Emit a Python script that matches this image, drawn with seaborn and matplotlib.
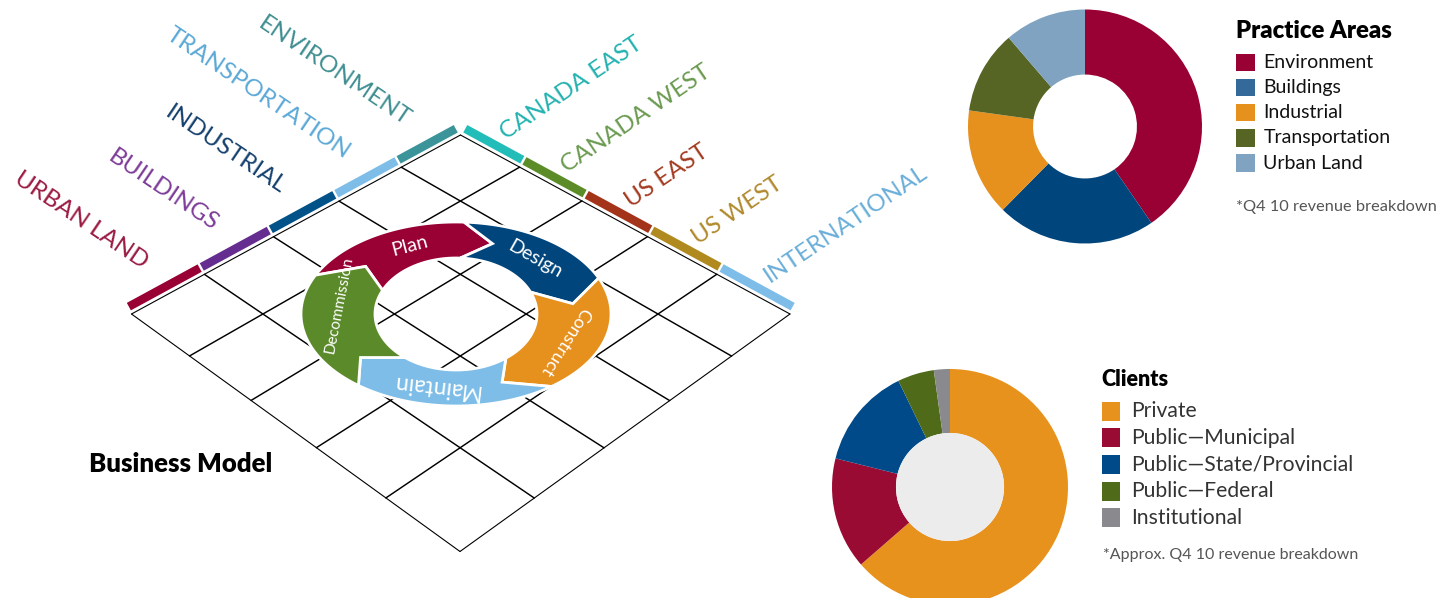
import numpy as np
import matplotlib
matplotlib.use("Agg")
import matplotlib.pyplot as plt
import seaborn as sns
from matplotlib.patches import Polygon, Rectangle, Circle

sns.set_theme(style="white")
plt.rcParams['font.family'] = ['Lato', 'DejaVu Sans']

# ---------------- data ----------------
practice_areas = ["Environment", "Buildings", "Industrial", "Transportation", "Urban Land"]
practice_share = [40.4, 22.0, 14.8, 11.5, 11.3]
practice_colors = ["#990033", "#00457c", "#e6901e", "#566424", "#7fa3c1"]
practice_legend_colors = ["#990033", "#346a99", "#e6901e", "#566424", "#7fa3c1"]

client_types = ["Private", "Public\u2014Municipal", "Public\u2014State/Provincial",
                "Public\u2014Federal", "Institutional"]
client_share = [63.6, 15.3, 13.9, 5.0, 2.2]
client_colors = ["#e8921e", "#9a0b33", "#004a8a", "#4f6b1a", "#8a8a8e"]

grid_practice_labels = ["URBAN LAND", "BUILDINGS", "INDUSTRIAL", "TRANSPORTATION", "ENVIRONMENT"]
grid_practice_text_colors = ["#9b1b42", "#7d3c98", "#14406e", "#5ba8d6", "#3f8e91"]
grid_practice_band_colors = ["#990033", "#662d91", "#005288", "#7dbde8", "#3b9499"]

grid_region_labels = ["CANADA EAST", "CANADA WEST", "US EAST", "US WEST", "INTERNATIONAL"]
grid_region_text_colors = ["#22b2b0", "#6b9a50", "#a33a1f", "#b08a2e", "#6aaed8"]
grid_region_band_colors = ["#22bdb8", "#5b8c28", "#a3341a", "#b08a1f", "#7dbde8"]

cycle_stages = ["Plan", "Design", "Construct", "Maintain", "Decommission"]
cycle_colors = ["#990033", "#00457c", "#e6901e", "#7dbde8", "#5b8a2a"]

# ---------------- layout ----------------
W, H = 1455, 598
fig = plt.figure(figsize=(W / 100, H / 100), dpi=100)
ax = fig.add_axes([0, 0, 1, 1])
ax.set_xlim(0, W)
ax.set_ylim(H, 0)
ax.axis("off")

# perspective grid (homography from unit square)
quad = np.array([[131.5, 314.0], [460.5, 135.0], [790.0, 314.0], [460.0, 551.5]])
unit = np.array([[0, 0], [1, 0], [1, 1], [0, 1]], dtype=float)
A, b = [], []
for (x, y), (X, Y) in zip(unit, quad):
    A.append([x, y, 1, 0, 0, 0, -X * x, -X * y]); b.append(X)
    A.append([0, 0, 0, x, y, 1, -Y * x, -Y * y]); b.append(Y)
hv = np.linalg.solve(np.array(A), np.array(b))
Hm = np.append(hv, 1.0).reshape(3, 3)


def proj(u, v):
    p = Hm @ np.array([u, v, 1.0])
    return p[:2] / p[2]


n_cells = len(grid_practice_labels)
for k in range(n_cells + 1):
    f = k / n_cells
    lw = 0.8 if k in (0, n_cells) else 1.05
    a1, a2 = proj(f, 0), proj(f, 1)
    ax.plot([a1[0], a2[0]], [a1[1], a2[1]], color="black", lw=lw, zorder=2)
    b1, b2 = proj(0, f), proj(1, f)
    ax.plot([b1[0], b2[0]], [b1[1], b2[1]], color="black", lw=lw, zorder=2)


def band(p0, p1, color, gap=1.2, off1=3.5, off2=12.0):
    t = (p1 - p0) / np.linalg.norm(p1 - p0)
    n = np.array([t[1], -t[0]])
    q0, q1 = p0 + t * gap, p1 - t * gap
    pts = [q0 + n * off1, q1 + n * off1, q1 + n * off2, q0 + n * off2]
    ax.add_patch(Polygon(pts, closed=True, facecolor=color, edgecolor="none", zorder=3))
    return (p0 + p1) / 2, t, n


for i, (lab, tc, bc) in enumerate(zip(grid_practice_labels, grid_practice_text_colors,
                                       grid_practice_band_colors)):
    p0, p1 = proj(i / n_cells, 0), proj((i + 1) / n_cells, 0)
    mid, t, n = band(p0, p1, bc)
    pos = mid + n * 34 - t * 11
    ax.text(pos[0], pos[1], lab, color=tc, fontsize=17.5, rotation=-34,
            rotation_mode="anchor", ha="right", va="baseline", zorder=4)

for j, (lab, tc, bc) in enumerate(zip(grid_region_labels, grid_region_text_colors,
                                       grid_region_band_colors)):
    p0, p1 = proj(1, j / n_cells), proj(1, (j + 1) / n_cells)
    mid, t, n = band(p0, p1, bc)
    pos = mid + n * 17 + t * 9
    ax.text(pos[0], pos[1], lab, color=tc, fontsize=17.5, rotation=34,
            rotation_mode="anchor", ha="left", va="baseline", zorder=4)

# cycle ring
cx, cy = 456, 314
ao, bo, ai, bi = 155, 92, 81, 56
bounds = [155, 87, 23, -52, -129, -205]
head = 15
label_angles = [113, 48, -22, -100, 173]
label_sizes = [14, 14, 13, 16.5, 11]


def ring_pt(tdeg, s):
    a = ai + s * (ao - ai)
    bb = bi + s * (bo - bi)
    t = np.radians(tdeg)
    return np.array([cx + a * np.cos(t), cy - bb * np.sin(t)])


for k, (stage, col) in enumerate(zip(cycle_stages, cycle_colors)):
    ts, te = bounds[k], bounds[k + 1]
    outer = [ring_pt(t, 1) for t in np.linspace(ts, te, 50)]
    inner = [ring_pt(t, 0) for t in np.linspace(te, ts, 50)]
    pts = outer + [ring_pt(te - head, 0.5)] + inner + [ring_pt(ts - head, 0.5)]
    ax.add_patch(Polygon(pts, closed=True, facecolor=col, edgecolor="white",
                         lw=2.0, joinstyle="miter", zorder=5))
    tm = label_angles[k]
    pm = ring_pt(tm, 0.5)
    r = np.radians(tm)
    am, bm = (ai + ao) / 2, (bi + bo) / 2
    rot = np.degrees(np.arctan2(-bm * np.cos(r), am * np.sin(r)))
    ax.text(pm[0], pm[1], stage, color="white", fontsize=label_sizes[k], rotation=rot,
            rotation_mode="anchor", ha="center", va="center", zorder=6)

ax.text(89, 471.5, "Business Model", fontsize=18.5, fontweight="heavy", color="black",
        ha="left", va="baseline")


# ---------------- donuts ----------------
def donut(cxp, cyp, R, values, colors, width, hole=None):
    axp = fig.add_axes([(cxp - R) / W, 1 - (cyp + R) / H, 2 * R / W, 2 * R / H])
    axp.pie(values, colors=colors, startangle=90, counterclock=False, radius=1,
            wedgeprops=dict(width=width, linewidth=0))
    if hole is not None:
        axp.add_patch(Circle((0, 0), 1 - width, facecolor=hole, edgecolor="none"))
    axp.set_xlim(-1, 1)
    axp.set_ylim(-1, 1)
    axp.set_aspect("equal")
    axp.axis("off")
    return axp


donut(1085, 126.5, 117, practice_share, practice_colors, 0.556)
donut(950, 487, 118, client_share, client_colors, 0.542, hole="#ececec")


# ---------------- legends ----------------
def legend(x0, title_y, title, y0, dy, labels, colors, note, note_y, pw, ph, tx,
           tsize, lsize, tcol, nsize):
    ax.text(x0, title_y, title, fontsize=tsize, fontweight="heavy", color="black",
            ha="left", va="baseline")
    for i, (lab, c) in enumerate(zip(labels, colors)):
        yc = y0 + i * dy
        ax.add_patch(Rectangle((x0, yc - ph / 2), pw, ph, facecolor=c, edgecolor="none"))
        ax.text(tx, yc, lab, fontsize=lsize, color=tcol, ha="left", va="center")
    ax.text(x0 + 1, note_y, note, fontsize=nsize, color="#555555", ha="left", va="center")


legend(1235.5, 38.3, "Practice Areas", 62.3, 25.2, practice_areas, practice_legend_colors,
       "*Q4 10 revenue breakdown", 207, 19, 17.5, 1263.3, 17.2, 14, "#111111", 11.8)
legend(1101.7, 386, "Clients", 411, 26.7, client_types, client_colors,
       "*Approx. Q4 10 revenue breakdown", 555, 18.5, 19, 1130.7, 15.5, 15.2, "#333333", 11.5)

fig.savefig("out.png", dpi=100)
